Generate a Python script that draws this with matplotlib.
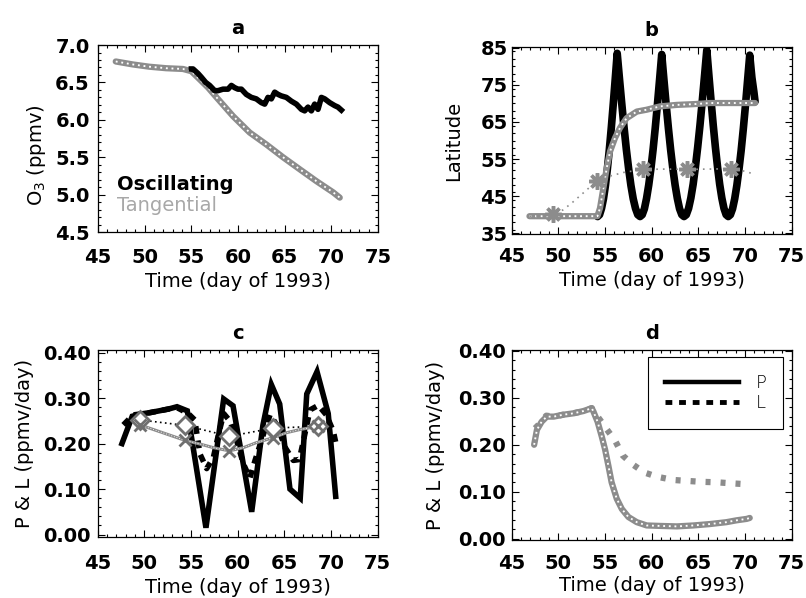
import matplotlib
matplotlib.use('Agg')
import matplotlib.pyplot as plt
from matplotlib.ticker import MultipleLocator, FormatStrFormatter
from matplotlib.lines import Line2D

plt.rcParams['font.family'] = ['DejaVu Sans']
plt.rcParams['font.size'] = 14

GRAY = '#8c8c8c'

#
# panel a : O3 along the trajectories
a_tan_day = [46.9, 48.75, 50.5, 52.3, 54.1, 55.0, 55.9, 56.8, 57.7, 59.46, 61.25,
             63.04, 64.82, 66.6, 68.4, 70.2, 70.9]
a_tan_o3 = [6.78, 6.74, 6.71, 6.69, 6.68, 6.65, 6.54, 6.43, 6.30, 6.05, 5.83,
            5.67, 5.50, 5.34, 5.18, 5.03, 4.96]
a_osc_day = [55.0, 55.18, 55.71, 56.07, 56.54, 56.96, 57.5, 57.86, 58.39, 58.93, 59.29,
             59.64, 60.0, 60.36, 60.89, 61.43, 61.96, 62.5, 62.86, 63.21, 63.57, 63.93,
             64.29, 64.64, 65.18, 65.71, 66.25, 66.79, 67.14, 67.5, 67.86, 68.21, 68.57,
             68.93, 69.29, 69.82, 70.36, 70.71, 71.07]
a_osc_o3 = [6.68, 6.68, 6.62, 6.57, 6.50, 6.46, 6.39, 6.39, 6.41, 6.41, 6.46,
            6.43, 6.41, 6.41, 6.34, 6.30, 6.28, 6.23, 6.21, 6.30, 6.28, 6.37,
            6.34, 6.32, 6.30, 6.25, 6.21, 6.14, 6.12, 6.17, 6.12, 6.21, 6.14,
            6.30, 6.28, 6.23, 6.19, 6.17, 6.13]

#
# panel b : latitude
b_osc_day = [54.2, 54.41, 54.62, 54.83, 55.04, 55.25, 55.46, 55.67, 55.88, 56.09, 56.3,
             56.545, 56.79, 57.035, 57.28, 57.525, 57.77, 58.015, 58.26, 58.505, 58.75,
             58.982, 59.214, 59.446, 59.678, 59.91, 60.142, 60.374, 60.606, 60.838, 61.07,
             61.309, 61.548, 61.787, 62.026, 62.265, 62.504, 62.743, 62.982, 63.221, 63.46,
             63.704, 63.948, 64.192, 64.436, 64.68, 64.924, 65.168, 65.412, 65.656, 65.9,
             66.13, 66.36, 66.59, 66.82, 67.05, 67.28, 67.51, 67.74, 67.97, 68.2,
             68.43, 68.66, 68.89, 69.12, 69.35, 69.58, 69.81, 70.04, 70.27, 70.5,
             70.73, 70.95, 71.07]
b_osc_lat = [39.5, 40.0, 41.7, 44.3, 47.9, 52.4, 57.6, 63.5, 69.9, 76.6, 83.5,
             76.6, 69.9, 63.5, 57.6, 52.4, 47.9, 44.3, 41.7, 40.0, 39.5,
             40.0, 41.6, 44.4, 48.0, 52.4, 57.5, 63.3, 69.6, 76.3, 83.2,
             76.3, 69.6, 63.3, 57.5, 52.4, 48.0, 44.4, 41.6, 40.0, 39.5,
             40.0, 41.7, 44.5, 48.2, 52.9, 58.2, 64.1, 70.6, 77.4, 84.4,
             77.4, 70.6, 64.1, 58.2, 52.9, 48.2, 44.5, 41.7, 40.0, 39.5,
             40.0, 41.6, 44.3, 47.9, 52.3, 57.3, 63.1, 69.4, 76.2, 83.0,
             77.0, 73.0, 70.5]
b_tan_day = [46.9, 54.18, 54.46, 54.82, 55.18, 55.54, 56.07, 56.6, 57.3, 58.4, 59.46,
             60.9, 62.7, 64.5, 66.25, 68.5, 71.07]
b_tan_lat = [39.6, 39.6, 41.8, 47.2, 52.6, 57.1, 60.7, 63.4, 66.0, 67.8, 68.3,
             69.2, 69.6, 69.8, 70.1, 70.1, 70.1]
b_avg_day = [46.9, 48.5, 49.46, 50.5, 51.5, 52.5, 53.4, 54.18, 55.5, 57.0, 59.1,
             61.5, 63.8, 66.1, 68.46, 70.0, 71.0]
b_avg_lat = [39.6, 39.7, 40.1, 41.3, 43.3, 45.5, 47.5, 49.0, 50.4, 51.4, 52.2,
             52.3, 52.2, 52.3, 52.4, 51.7, 50.9]
b_avg_marks = [2, 7, 10, 12, 14]

#
# panel c : production / loss, oscillating
c_p_day = [47.6, 48.7, 49.6, 50.6, 51.6, 52.6, 53.5, 54.6, 56.6, 58.5, 59.5, 61.5,
           62.7, 63.6, 64.5, 65.6, 66.7, 67.4, 68.5, 69.7, 70.5]
c_p_val = [0.20, 0.26, 0.265, 0.268, 0.272, 0.276, 0.281, 0.272, 0.015, 0.298, 0.283, 0.05,
           0.24, 0.33, 0.287, 0.10, 0.08, 0.309, 0.358, 0.266, 0.084]
c_l_day = [47.75, 48.8, 49.6, 50.6, 51.6, 52.6, 53.5, 54.7, 55.4, 55.96, 56.68, 57.4,
           57.9, 58.5, 59.2, 59.9, 60.6, 61.3, 61.86, 62.75, 63.46, 64.2, 65.1, 65.96,
           66.6, 67.0, 67.75, 68.64, 69.5, 70.25, 70.54]
c_l_val = [0.241, 0.263, 0.265, 0.268, 0.272, 0.276, 0.279, 0.266, 0.252, 0.177, 0.145, 0.17,
           0.216, 0.266, 0.249, 0.206, 0.156, 0.124, 0.163, 0.22, 0.263, 0.241, 0.191, 0.163,
           0.165, 0.202, 0.274, 0.284, 0.263, 0.227, 0.199]
c_ld_day = [49.54, 54.36, 59.1, 63.8, 68.64]
c_ld_val = [0.252, 0.24, 0.216, 0.234, 0.238]
c_pd_day = [49.54, 54.36, 55.96, 57.4, 59.1, 60.6, 62.0, 63.8, 65.25, 66.7, 68.64]
c_pd_val = [0.241, 0.207, 0.199, 0.191, 0.184, 0.191, 0.202, 0.213, 0.224, 0.231, 0.238]
c_pd_marks = [0, 1, 4, 7, 10]

#
# panel d : production / loss, tangential
d_p_day = [47.4, 47.7, 48.2, 48.75, 49.5, 50.5, 51.6, 52.7, 53.57, 53.75, 54.2, 54.64,
           55.0, 55.36, 55.7, 56.25, 56.8, 57.5, 58.4, 59.46, 60.9, 62.7, 64.46, 66.25,
           68.0, 69.1, 70.18, 70.5]
d_p_val = [0.20, 0.232, 0.249, 0.26, 0.26, 0.264, 0.267, 0.272, 0.278, 0.271, 0.249, 0.218,
           0.19, 0.155, 0.12, 0.085, 0.063, 0.046, 0.035, 0.028, 0.027, 0.026, 0.028, 0.031,
           0.035, 0.039, 0.042, 0.044]
d_l_day = [47.5, 48.0, 48.7, 49.5, 50.5, 51.6, 52.7, 53.57, 54.2, 54.46, 55.18, 56.07,
           56.9, 57.96, 59.2, 60.54, 62.3, 63.75, 65.36, 66.96, 68.4, 70.0, 70.5]
d_l_val = [0.235, 0.245, 0.262, 0.26, 0.264, 0.267, 0.272, 0.278, 0.26, 0.253, 0.233, 0.209,
           0.177, 0.158, 0.141, 0.132, 0.125, 0.123, 0.121, 0.12, 0.118, 0.116, 0.115]


def gray_chain(ax, x, y, lw=4.5, z=2):
    # halftone gray look: thick gray line with a white dotted core
    ax.plot(x, y, color=GRAY, lw=lw, solid_capstyle='round', solid_joinstyle='round', zorder=z)
    ax.plot(x, y, color='white', lw=lw * 0.3, linestyle=(0, (1, 2)), zorder=z + 0.1)


def style_axes(ax, title, ylabel, ymaj, yfmt, xpad, ypad, xlab_y, ylab_x, ylab_y=0.5,
               yoff=0.0):
    ax.set_xlim(45, 75)
    ax.xaxis.set_major_locator(MultipleLocator(5))
    ax.xaxis.set_minor_locator(MultipleLocator(1))
    ax.yaxis.set_major_locator(MultipleLocator(ymaj, offset=yoff))
    ax.yaxis.set_minor_locator(MultipleLocator(ymaj / 5))
    ax.yaxis.set_major_formatter(FormatStrFormatter(yfmt))
    ax.tick_params(which='both', direction='in', top=True, right=True, width=0.8)
    ax.tick_params(which='major', length=5)
    ax.tick_params(which='minor', length=2.5)
    ax.tick_params(axis='x', pad=xpad, labelsize=14)
    ax.tick_params(axis='y', pad=ypad, labelsize=14)
    for lab in ax.get_xticklabels() + ax.get_yticklabels():
        lab.set_fontweight('bold')
    for sp in ax.spines.values():
        sp.set_linewidth(0.9)
    ax.set_title(title, fontweight='bold', fontsize=14, pad=8)
    ax.set_xlabel('Time (day of 1993)', fontsize=14, va='center')
    ax.xaxis.set_label_coords(0.5, xlab_y)
    ax.set_ylabel(ylabel, fontsize=14, va='center')
    ax.yaxis.set_label_coords(ylab_x, ylab_y)


fig = plt.figure(figsize=(8.06, 5.98), dpi=100)

axa = fig.add_axes([0.1216, 0.6120, 0.3474, 0.3127])
axb = fig.add_axes([0.6349, 0.6087, 0.3474, 0.3127])
axc = fig.add_axes([0.1212, 0.1015, 0.3474, 0.3127])
axd = fig.add_axes([0.6349, 0.0970, 0.3474, 0.3177])

#
# a
gray_chain(axa, a_tan_day, a_tan_o3, lw=4.5)
axa.plot(a_osc_day, a_osc_o3, color='k', lw=4, solid_joinstyle='round', zorder=3)
axa.text(0.068, 0.225, 'Oscillating', transform=axa.transAxes, fontsize=14,
         fontweight='bold', color='k')
axa.text(0.068, 0.115, 'Tangential', transform=axa.transAxes, fontsize=14,
         color='#a8a8a8')
axa.set_ylim(4.5, 7.0)
style_axes(axa, 'a', 'O$_3$ (ppmv)', 0.5, '%.1f', 11.5, 6, -0.262, -0.218, 0.41)

#
# b
axb.plot(b_osc_day, b_osc_lat, color='k', lw=5.5, solid_joinstyle='round',
         solid_capstyle='round', zorder=2)
gray_chain(axb, b_tan_day, b_tan_lat, lw=4.5, z=3)
axb.plot(b_avg_day, b_avg_lat, color=GRAY, lw=1.2, linestyle=(0, (1, 3)), zorder=4)
axb.plot([b_avg_day[i] for i in b_avg_marks], [b_avg_lat[i] for i in b_avg_marks],
         linestyle='none', marker=(8, 2, 0), ms=12, mew=2.5, color=GRAY, zorder=4)
axb.set_ylim(34.8, 85.2)
style_axes(axb, 'b', 'Latitude', 10, '%d', 9.5, 3, -0.251, -0.206, yoff=5)

#
# c
axc.plot(c_p_day, c_p_val, color='k', lw=4, solid_joinstyle='miter', zorder=2)
axc.plot(c_l_day, c_l_val, color='k', lw=4, linestyle=(0, (1.4, 1.2)), zorder=2)
axc.plot(c_ld_day, c_ld_val, color='k', lw=1.2, linestyle=(0, (1, 2)), zorder=3)
axc.plot(c_ld_day, c_ld_val, linestyle='none', marker='D', ms=9, mfc='white',
         mec='#707070', mew=2, zorder=4)
gray_chain(axc, c_pd_day, c_pd_val, lw=2.2, z=3)
axc.plot([c_pd_day[i] for i in c_pd_marks], [c_pd_val[i] for i in c_pd_marks],
         linestyle='none', marker='x', ms=8, mew=2, color='#707070', zorder=4)
axc.set_ylim(-0.006, 0.405)
style_axes(axc, 'c', 'P & L (ppmv/day)', 0.1, '%.2f', 12, 5, -0.266, -0.26)

#
# d
axd.plot(d_l_day, d_l_val, color=GRAY, lw=4.5, linestyle=(0, (0.8, 1.6)), zorder=2)
gray_chain(axd, d_p_day, d_p_val, lw=4.5, z=3)
handles = [Line2D([], [], color='k', lw=3.2),
           Line2D([], [], color='k', lw=3.5, linestyle=(0, (1.4, 1.4)))]
leg = axd.legend(handles, ['P', 'L'], loc='upper right', bbox_to_anchor=(0.97, 0.962),
                 frameon=True, fancybox=False, edgecolor='k', framealpha=1,
                 fontsize=13, handlelength=4.1, handletextpad=0.9, borderpad=0.95,
                 labelspacing=0.1, borderaxespad=0)
leg.get_frame().set_linewidth(0.8)
for t in leg.get_texts():
    t.set_fontweight('light')
axd.set_ylim(-0.003, 0.402)
style_axes(axd, 'd', 'P & L (ppmv/day)', 0.1, '%.2f', 10, 4.5, -0.242, -0.274)

fig.savefig('out.png', dpi=100)
